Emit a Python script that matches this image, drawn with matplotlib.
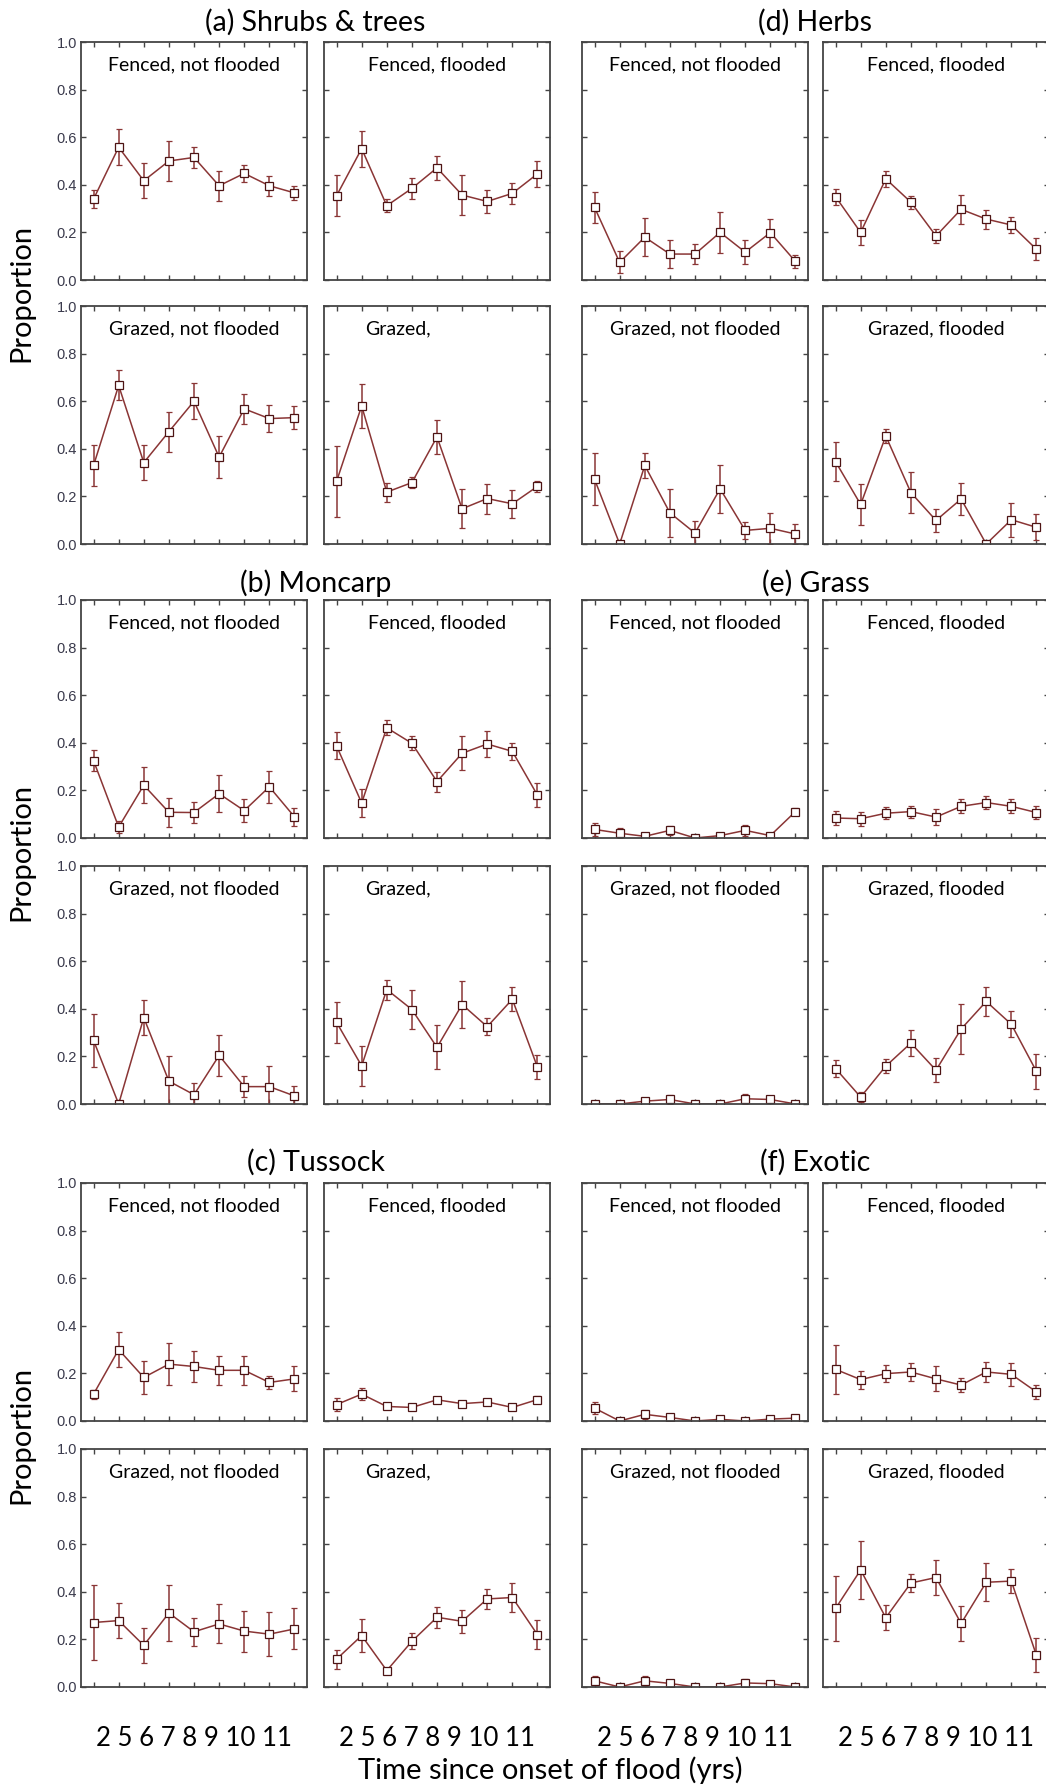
import matplotlib.pyplot as plt
import numpy as np

plt.rcParams['font.family'] = ['Lato', 'DejaVu Sans']

years = np.arange(1, 10)
year_labels = ['2', '5', '6', '7', '8', '9', '10', '11']
group_titles = ['(a) Shrubs & trees', '(b) Moncarp', '(c) Tussock',
                '(d) Herbs', '(e) Grass', '(f) Exotic']
conditions = ['Fenced, not flooded', 'Fenced, flooded',
              'Grazed, not flooded', 'Grazed, flooded']

# (a) Shrubs & trees
a_fnf = [0.34, 0.558, 0.417, 0.50, 0.515, 0.396, 0.448, 0.396, 0.366]
a_fnf_err = [0.038, 0.075, 0.074, 0.084, 0.044, 0.063, 0.037, 0.043, 0.03]
a_ff = [0.354, 0.552, 0.312, 0.385, 0.471, 0.357, 0.33, 0.364, 0.446]
a_ff_err = [0.086, 0.076, 0.028, 0.045, 0.052, 0.084, 0.048, 0.044, 0.055]
a_gnf = [0.33, 0.666, 0.342, 0.472, 0.60, 0.365, 0.568, 0.527, 0.531]
a_gnf_err = [0.086, 0.063, 0.073, 0.084, 0.075, 0.089, 0.062, 0.058, 0.048]
a_gf = [0.263, 0.58, 0.218, 0.258, 0.45, 0.148, 0.191, 0.169, 0.242]
a_gf_err = [0.15, 0.093, 0.04, 0.024, 0.07, 0.081, 0.063, 0.058, 0.022]

# (b) Moncarp
b_fnf = [0.325, 0.046, 0.222, 0.108, 0.107, 0.186, 0.115, 0.215, 0.089]
b_fnf_err = [0.045, 0.026, 0.075, 0.06, 0.043, 0.077, 0.048, 0.068, 0.038]
b_ff = [0.387, 0.147, 0.463, 0.398, 0.237, 0.356, 0.395, 0.364, 0.18]
b_ff_err = [0.057, 0.058, 0.032, 0.03, 0.042, 0.072, 0.054, 0.037, 0.05]
b_gnf = [0.267, 0.0, 0.363, 0.096, 0.039, 0.204, 0.073, 0.073, 0.034]
b_gnf_err = [0.11, 0.0, 0.072, 0.105, 0.05, 0.088, 0.044, 0.087, 0.04]
b_gf = [0.343, 0.16, 0.481, 0.397, 0.238, 0.418, 0.325, 0.44, 0.155]
b_gf_err = [0.085, 0.085, 0.042, 0.083, 0.093, 0.097, 0.037, 0.051, 0.05]

# (c) Tussock
c_fnf = [0.113, 0.30, 0.183, 0.239, 0.229, 0.213, 0.213, 0.162, 0.177]
c_fnf_err = [0.019, 0.073, 0.07, 0.088, 0.065, 0.06, 0.06, 0.029, 0.053]
c_ff = [0.069, 0.113, 0.061, 0.057, 0.089, 0.073, 0.08, 0.057, 0.09]
c_ff_err = [0.029, 0.025, 0.008, 0.006, 0.01, 0.008, 0.012, 0.006, 0.015]
c_gnf = [0.271, 0.279, 0.175, 0.311, 0.232, 0.265, 0.235, 0.222, 0.244]
c_gnf_err = [0.158, 0.075, 0.074, 0.119, 0.059, 0.082, 0.086, 0.092, 0.086]
c_gf = [0.117, 0.216, 0.069, 0.192, 0.293, 0.276, 0.37, 0.376, 0.22]
c_gf_err = [0.04, 0.07, 0.006, 0.034, 0.044, 0.048, 0.042, 0.059, 0.06]

# (d) Herbs
d_fnf = [0.305, 0.074, 0.18, 0.109, 0.109, 0.20, 0.117, 0.199, 0.078]
d_fnf_err = [0.066, 0.046, 0.081, 0.06, 0.043, 0.085, 0.05, 0.059, 0.029]
d_ff = [0.35, 0.20, 0.425, 0.327, 0.185, 0.297, 0.256, 0.231, 0.129]
d_ff_err = [0.034, 0.053, 0.034, 0.027, 0.03, 0.061, 0.04, 0.035, 0.047]
d_gnf = [0.272, 0.0, 0.33, 0.131, 0.046, 0.232, 0.057, 0.066, 0.042]
d_gnf_err = [0.11, 0.0, 0.054, 0.1, 0.05, 0.102, 0.034, 0.066, 0.04]
d_gf = [0.346, 0.166, 0.454, 0.216, 0.099, 0.189, 0.0, 0.102, 0.07]
d_gf_err = [0.083, 0.085, 0.03, 0.086, 0.05, 0.068, 0.0, 0.072, 0.055]

# (e) Grass
e_fnf = [0.036, 0.02, 0.007, 0.032, 0.0, 0.01, 0.032, 0.01, 0.111]
e_fnf_err = [0.028, 0.022, 0.006, 0.02, 0.0, 0.006, 0.024, 0.005, 0.016]
e_ff = [0.084, 0.081, 0.104, 0.111, 0.088, 0.133, 0.149, 0.133, 0.107]
e_ff_err = [0.031, 0.03, 0.025, 0.025, 0.032, 0.03, 0.029, 0.03, 0.026]
e_gnf = [0.0, 0.0, 0.012, 0.019, 0.0, 0.0, 0.022, 0.019, 0.0]
e_gnf_err = [0.0, 0.0, 0.01, 0.018, 0.0, 0.0, 0.02, 0.014, 0.0]
e_gf = [0.149, 0.029, 0.159, 0.256, 0.142, 0.315, 0.431, 0.335, 0.137]
e_gf_err = [0.037, 0.022, 0.029, 0.055, 0.05, 0.104, 0.062, 0.055, 0.073]

# (f) Exotic
f_fnf = [0.054, 0.0, 0.028, 0.015, 0.0, 0.007, 0.0, 0.008, 0.012]
f_fnf_err = [0.024, 0.0, 0.018, 0.014, 0.0, 0.005, 0.0, 0.005, 0.008]
f_ff = [0.217, 0.174, 0.199, 0.206, 0.177, 0.151, 0.206, 0.196, 0.122]
f_ff_err = [0.103, 0.038, 0.035, 0.039, 0.052, 0.03, 0.042, 0.048, 0.03]
f_gnf = [0.026, 0.0, 0.026, 0.015, 0.0, 0.0, 0.017, 0.014, 0.0]
f_gnf_err = [0.019, 0.0, 0.022, 0.012, 0.0, 0.0, 0.018, 0.01, 0.0]
f_gf = [0.33, 0.492, 0.291, 0.437, 0.46, 0.267, 0.44, 0.445, 0.133]
f_gf_err = [0.135, 0.123, 0.052, 0.039, 0.073, 0.075, 0.08, 0.05, 0.072]

groups = [
    [(a_fnf, a_fnf_err), (a_ff, a_ff_err), (a_gnf, a_gnf_err), (a_gf, a_gf_err)],
    [(b_fnf, b_fnf_err), (b_ff, b_ff_err), (b_gnf, b_gnf_err), (b_gf, b_gf_err)],
    [(c_fnf, c_fnf_err), (c_ff, c_ff_err), (c_gnf, c_gnf_err), (c_gf, c_gf_err)],
    [(d_fnf, d_fnf_err), (d_ff, d_ff_err), (d_gnf, d_gnf_err), (d_gf, d_gf_err)],
    [(e_fnf, e_fnf_err), (e_ff, e_ff_err), (e_gnf, e_gnf_err), (e_gf, e_gf_err)],
    [(f_fnf, f_fnf_err), (f_ff, f_ff_err), (f_gnf, f_gnf_err), (f_gf, f_gf_err)],
]

FW, FH = 1046, 1787
fig = plt.figure(figsize=(FW / 100, FH / 100), dpi=100)

col_x = [[81, 324], [582, 823]]
row_y = [[42, 306], [600, 866], [1183, 1449]]
title_y = [22, 583, 1162]
PW, PH = 226, 238

line_c = '#8a3535'
edge_c = '#4d1414'
spine_c = '#444444'


def add_panel(x, y):
    return fig.add_axes([x / FW, 1 - (y + PH) / FH, PW / FW, PH / FH])


for gi, panels in enumerate(groups):
    gcol, grow = gi // 3, gi % 3
    for pi, (mean, err) in enumerate(panels):
        r, c = pi // 2, pi % 2
        ax = add_panel(col_x[gcol][c], row_y[grow][r])
        ax.errorbar(years, mean, yerr=err, color=line_c, lw=1.1,
                    elinewidth=1.1, capsize=2.5, capthick=1.0,
                    marker='s', ms=5.5, mfc='white', mec=edge_c, mew=0.9)
        ax.set_xlim(0.5, 9.5)
        ax.set_ylim(0, 1)
        ax.set_xticks(years)
        ax.set_xticklabels([])
        ax.set_yticks(np.arange(0, 1.01, 0.2))
        ax.tick_params(direction='in', top=True, right=True, length=3.5,
                       width=1, color=spine_c, pad=3)
        for s in ax.spines.values():
            s.set_color(spine_c)
            s.set_linewidth(1.3)
        if gcol == 0 and c == 0:
            ax.set_yticklabels(['%.1f' % v for v in np.arange(0, 1.01, 0.2)],
                               fontsize=10.5, color='#3a3a4c',
                               family='Liberation Sans')
        else:
            ax.set_yticklabels([])
        label = conditions[pi]
        if gcol == 0 and pi == 3:
            ax.text(0.18, 0.905, 'Grazed,', transform=ax.transAxes,
                    ha='left', va='center', fontsize=14)
        else:
            ax.text(0.5, 0.905, label, transform=ax.transAxes,
                    ha='center', va='center', fontsize=14)
        if grow == 2 and r == 1:
            ax.text(0.5, -51 / PH, ' '.join(year_labels), transform=ax.transAxes,
                    ha='center', va='center', fontsize=18.5)
    cx = (col_x[gcol][0] + col_x[gcol][1] + PW) / 2
    fig.text(cx / FW, 1 - title_y[grow] / FH, group_titles[gi],
             ha='center', va='center', fontsize=20.5)
    if gcol == 0:
        ymid = (row_y[grow][0] + PH + row_y[grow][1]) / 2
        fig.text(21 / FW, 1 - ymid / FH, 'Proportion', rotation=90,
                 ha='center', va='center', fontsize=21)

fig.text(550 / FW, 1 - 1770 / FH, 'Time since onset of flood (yrs)',
         ha='center', va='center', fontsize=21)

fig.savefig('out.png', dpi=100)
